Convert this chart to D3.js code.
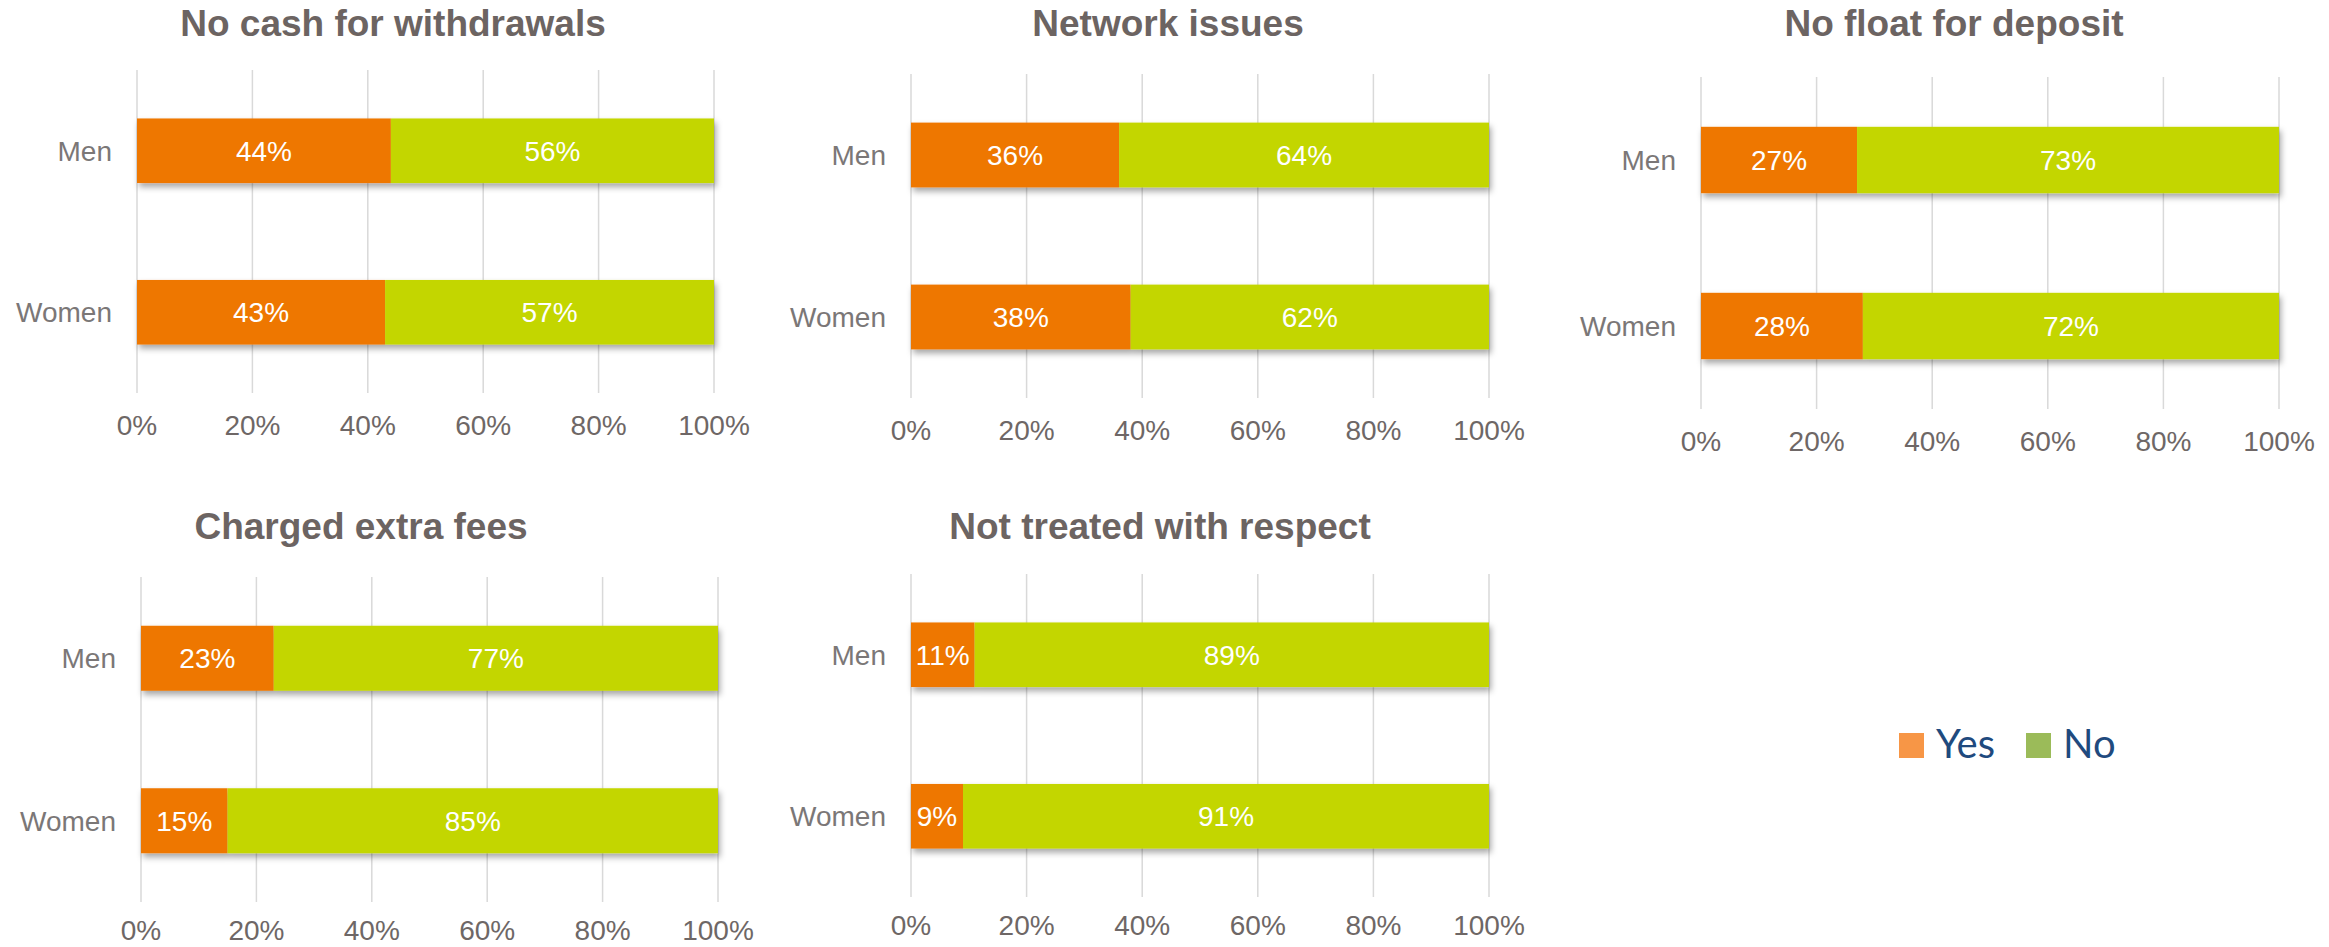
<!DOCTYPE html>
<html>
<head>
<meta charset="utf-8">
<script src="https://cdn.jsdelivr.net/npm/d3@7"></script>
<style>
  html, body { margin: 0; padding: 0; background: #ffffff; }
  svg { display: block; }
</style>
</head>
<body>
<svg id="chart" width="2329" height="947"></svg>
<script>
// Reported problems at mobile money agents, by gender (share answering Yes / No)
const panelTitles = [
  "No cash for withdrawals",
  "Network issues",
  "No float for deposit",
  "Charged extra fees",
  "Not treated with respect"
];
const groups = ["Men", "Women"];
const yesMen   = [44, 36, 27, 23, 11];
const yesWomen = [43, 38, 28, 15, 9];
const noMen    = [56, 64, 73, 77, 89];
const noWomen  = [57, 62, 72, 85, 91];
const tickValues = [0, 20, 40, 60, 80, 100];
const seriesNames = ["Yes", "No"];

const barColors = { Yes: "#ee7702", No: "#c3d600" };
const legendColors = { Yes: "#f79646", No: "#9bbb59" };

// plot frames: axis left/right, grid top/bottom, tick label offset, title centre and baseline
const frames = [
  { left: 137,  right: 714,  top: 70,  bottom: 393, tickGap: 42, tx: 393,  ty: 36 },
  { left: 911,  right: 1489, top: 74,  bottom: 398, tickGap: 42, tx: 1168, ty: 36 },
  { left: 1701, right: 2279, top: 77,  bottom: 409, tickGap: 42, tx: 1954, ty: 36 },
  { left: 141,  right: 718,  top: 577, bottom: 902, tickGap: 38, tx: 361,  ty: 539 },
  { left: 911,  right: 1489, top: 574, bottom: 897, tickGap: 38, tx: 1160, ty: 539 }
];

const FONT = "'Liberation Sans',Arial,sans-serif";
const svg = d3.select("#chart");

function label(g, text, x, y, opts) {
  return g.append("text")
    .attr("x", x).attr("y", y)
    .attr("font-family", FONT)
    .attr("font-size", opts.size)
    .attr("font-weight", opts.weight || "normal")
    .attr("fill", opts.fill)
    .attr("text-anchor", opts.anchor || "middle")
    .attr("dy", opts.dy || null)
    .text(text);
}

// soft drop shadow under the bars
const defs = svg.append("defs");
const f = defs.append("filter").attr("id", "barShadow")
  .attr("x", "-5%").attr("y", "-20%").attr("width", "115%").attr("height", "160%");
f.append("feDropShadow").attr("dx", 2).attr("dy", 4).attr("stdDeviation", 3)
  .attr("flood-color", "#000").attr("flood-opacity", 0.35);

panelTitles.forEach((title, i) => {
  const fr = frames[i];
  const g = svg.append("g");
  const x = d3.scaleLinear().domain([0, 100]).range([fr.left, fr.right]);
  const y = d3.scaleBand().domain(groups).range([fr.top, fr.bottom])
    .paddingInner(0.6).paddingOuter(0.3);

  // title
  label(g, title, fr.tx, fr.ty, { size: 37, weight: "bold", fill: "#6c6462" });

  // vertical gridlines
  g.append("g").selectAll("line").data(tickValues).join("line")
    .attr("x1", d => x(d)).attr("x2", d => x(d))
    .attr("y1", fr.top).attr("y2", fr.bottom)
    .attr("stroke", "#d9d9d9").attr("stroke-width", 1.5);

  // tick labels
  tickValues.forEach(t => {
    label(g, t + "%", x(t), fr.bottom + fr.tickGap, { size: 28, fill: "#6e6766" });
  });

  // category labels
  groups.forEach(grp => {
    label(g, grp, fr.left - 25, y(grp) + y.bandwidth() / 2, {
      size: 28, fill: "#7b7777", anchor: "end", dy: "0.35em"
    });
  });

  // stacked bars
  const rows = [
    { group: "Men", Yes: yesMen[i], No: noMen[i] },
    { group: "Women", Yes: yesWomen[i], No: noWomen[i] }
  ];
  const stack = d3.stack().keys(seriesNames)(rows);

  const barG = g.append("g").attr("filter", "url(#barShadow)");
  stack.forEach(layer => {
    barG.selectAll(null).data(layer).join("rect")
      .attr("x", d => x(d[0]))
      .attr("width", d => x(d[1]) - x(d[0]))
      .attr("y", d => y(d.data.group))
      .attr("height", y.bandwidth())
      .attr("fill", barColors[layer.key]);
  });
  stack.forEach(layer => {
    layer.forEach(d => {
      label(g, d.data[layer.key] + "%", (x(d[0]) + x(d[1])) / 2,
        y(d.data.group) + y.bandwidth() / 2, { size: 28, fill: "#ffffff", dy: "0.35em" });
    });
  });
});

// legend
const legend = svg.append("g");
const legendX = [1899, 2026];
seriesNames.forEach((name, k) => {
  legend.append("rect").attr("x", legendX[k]).attr("y", 733)
    .attr("width", 25).attr("height", 25).attr("fill", legendColors[name]);
  legend.append("text").attr("x", legendX[k] + 37).attr("y", 758)
    .attr("font-family", "Lato, 'Open Sans', sans-serif").attr("font-size", 40)
    .attr("fill", "#1f4a7e").text(name);
});
</script>
</body>
</html>
